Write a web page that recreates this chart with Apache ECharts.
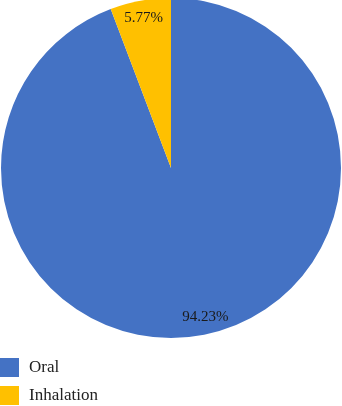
<!DOCTYPE html>
<html>
<head>
<meta charset="utf-8">
<script src="https://cdn.jsdelivr.net/npm/echarts@6/dist/echarts.min.js"></script>
<style>html,body{margin:0;padding:0;background:#fff}#c{width:342px;height:406px}</style>
</head>
<body>
<div id="c"></div>
<script>
const categories = ['Oral', 'Inhalation'];
const values = [94.23, 5.77];
const labels = ['94.23%', '5.77%'];
const colors = ['#4472C4', '#FFC000'];

const chart = echarts.init(document.getElementById('c'), null, {renderer: 'canvas'});
const font = '"Liberation Serif", "DejaVu Serif", serif';
chart.setOption({
  animation: false,
  color: colors,
  legend: {
    orient: 'vertical', left: 0, top: 358, height: 60,
    itemWidth: 19, itemHeight: 19, itemGap: 9,
    icon: 'rect', padding: 0,
    textStyle: {fontFamily: font, fontSize: 17, color: '#222', lineHeight: 19, padding: [0, 0, 0, 5]},
    data: categories
  },
  series: [
    {
      type: 'pie', center: [171, 168], radius: [0, 170],
      startAngle: 90, clockwise: true,
      label: {show: false}, labelLine: {show: false},
      emphasis: {disabled: true},
      silent: true,
      data: categories.map((c, i) => ({name: c, value: values[i]}))
    },
    {
      type: 'pie', center: [171, 168], radius: [140, 158],
      startAngle: 90, clockwise: true,
      silent: true, emphasis: {disabled: true},
      itemStyle: {color: 'rgba(0,0,0,0)'},
      labelLine: {show: false},
      label: {show: true, position: 'inside', fontFamily: font, fontSize: 15, color: '#1a1a1a',
        formatter: p => labels[p.dataIndex]},
      data: categories.map((c, i) => ({name: c, value: values[i],
        label: i === 0 ? {padding: [0, 0, 0, 14]} : {}}))
    }
  ]
});
</script>
</body>
</html>
